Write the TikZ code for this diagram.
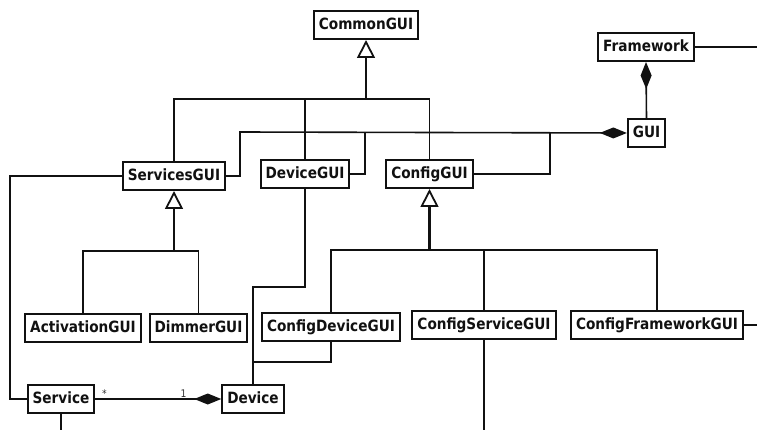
\documentclass[tikz,border=0pt]{standalone}
\usepackage{fontspec}
\setmainfont{DejaVu Sans}[FakeStretch=0.88]
\usetikzlibrary{
  arrows.meta,
  positioning,
  calc,
}
\definecolor{ink}{HTML}{111111}
\definecolor{muted}{HTML}{333333}
\tikzset{
  uml/.style={
    x=1pt, y=-1pt,
    line join=miter,
    font=\bfseries\fontsize{15.5}{18}\selectfont,
  },
  cls/.style={
    draw=ink,
    fill=white,
    line width=2pt,
    inner xsep=5pt,
    inner ysep=0pt,
    text height=11.5pt,
    text depth=3pt,
    minimum height=28pt,
    text=ink,
  },
  link/.style={
    draw=ink,
    line width=1.6pt,
  },
  gen/.style={
    link,
    line width=2.2pt,
    -{Triangle[open, length=18pt, width=18pt, line width=1.8pt, fill=white]},
  },
  comp/.style={
    link,
    -{Diamond[length=27pt, width=11pt]},
  },
  mult/.style={
    font=\fontsize{10.5}{12}\selectfont,
    text=muted,
    inner sep=1pt,
  },
}

\begin{document}
\begin{tikzpicture}[uml]
  \useasboundingbox (0,0) rectangle (757,430);

  % classes
  \node[cls] (common) at (366,25) {CommonGUI};
  \node[cls] (fw) at (646,47) {Framework};
  \node[cls] (gui) at (646.5,133) {GUI};
  \node[cls] (srvgui) at (174,176) {ServicesGUI};
  \node[cls] (devgui) at (305,174) {DeviceGUI};
  \node[cls] (cfggui) at (429.5,174) {ConfigGUI};
  \node[cls] (actgui) at (83,328) {ActivationGUI};
  \node[cls] (dimgui) at (198.5,328) {DimmerGUI};
  \node[cls] (cfgdev) at (331,327) {ConfigDeviceGUI};
  \node[cls] (cfgsrv) at (484,325) {ConfigServiceGUI};
  \node[cls] (cfgfw) at (657,325) {ConfigFrameworkGUI};
  \node[cls] (service) at (61,399) {Service};
  \node[cls] (device) at (253,399) {Device};

  % bends and free ends
  \coordinate (jc) at (366,99);
  \coordinate (jsg) at (174,251);
  \coordinate (jcf) at (429.5,250);
  \coordinate (gsrv) at (240,132);
  \coordinate (gdev) at (365,132);
  \coordinate (gcfg) at (550,132);
  \coordinate (sleft) at (10,176);
  \coordinate (dbend) at (305,287);
  \coordinate (djoin) at (253,362);
  \coordinate (fwout) at (757,47);
  \coordinate (cfwout) at (757,325);
  \coordinate (srvout) at (61,430);
  \coordinate (csout) at (484,430);

  % generalisations
  \draw[link] (srvgui.north) |- (jc) -| (cfggui.north);
  \draw[link] (devgui.north) -- (devgui.north |- jc);
  \draw[gen] (jc) -- (common.south);

  \draw[link] (actgui.north) |- (jsg) -| (dimgui.north);
  \draw[gen] (jsg) -- (srvgui.south);

  \draw[link] (cfgdev.north) |- (jcf) -| (cfgfw.north);
  \draw[link] (cfgsrv.north) -- (cfgsrv.north |- jcf);
  \draw[gen] (jcf) -- (cfggui.south);

  % compositions
  \draw[link] (devgui.east) -| (gdev);
  \draw[link] (cfggui.east) -| (gcfg);
  \draw[comp] (srvgui.east) -| (gsrv) -- (gui.west);
  \draw[comp] (gui.north) -- (fw.south);
  \draw[comp] (service.east) -- (device.west)
    node[mult, pos=0.04, above right] {*}
    node[mult, pos=0.7, above] {1};

  % associations
  \draw[link] (srvgui.west) -- (sleft) |- (service.west);
  \draw[link] (devgui.south) -- (dbend) -| (device.north);
  \draw[link] (cfgdev.south) |- (djoin);
  \draw[link] (fw.east) -- (fwout);
  \draw[link] (cfgfw.east) -- (cfwout);
  \draw[link] (service.south) -- (srvout);
  \draw[link] (cfgsrv.south) -- (csout);
\end{tikzpicture}
\end{document}
